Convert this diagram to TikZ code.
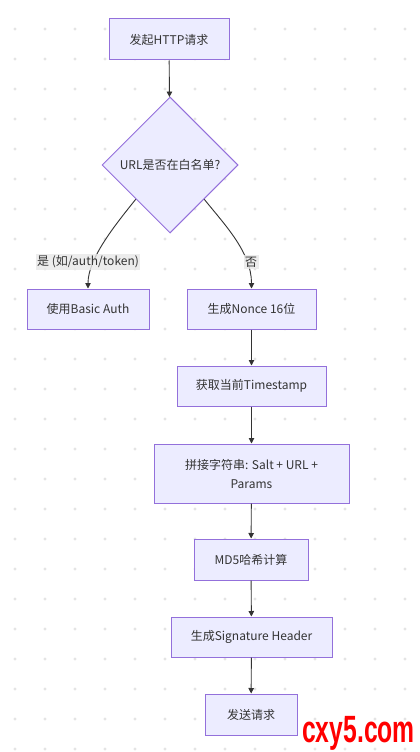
\documentclass[tikz,border=0pt]{standalone}
\usepackage{fontspec}
\usepackage{tikz}
\usetikzlibrary{shapes.geometric,arrows.meta}
\setmainfont{Noto Sans CJK SC}
\newfontfamily\markfont{Liberation Sans}
\definecolor{boxfill}{RGB}{236,236,255}
\definecolor{boxline}{RGB}{147,112,219}
\definecolor{inkc}{RGB}{51,51,51}
\definecolor{dotc}{RGB}{228,228,228}
\definecolor{lblfill}{RGB}{232,232,232}
\definecolor{markred}{RGB}{255,0,0}

\begin{document}
\begin{tikzpicture}[x=1pt, y=-1pt,
    box/.style={draw=boxline, fill=boxfill, line width=1pt, text=inkc,
      font=\fontsize{12}{19}\selectfont, align=center, inner sep=0pt},
    choice/.style={diamond, draw=boxline, fill=boxfill, line width=1pt, text=inkc,
      font=\fontsize{12}{15}\selectfont, inner sep=0pt, aspect=1,
      minimum width=136pt, minimum height=136pt},
    edge/.style={draw=inkc, line width=0.9pt, -{Triangle[length=5.5pt,width=5.5pt]}},
    elabel/.style={fill=lblfill, fill opacity=0.8, text opacity=1, text=inkc,
      font=\fontsize{12}{15}\selectfont, inner sep=1.5pt}]
  \fill[white] (0,0) rectangle (420,752);
  \useasboundingbox (0,0) rectangle (420,752);

  \foreach \x in {15,45,...,405} {
    \foreach \y in {29,59,...,749} {
      \fill[dotc] (\x,\y) circle (1.6pt);
    }
  }

  \node[box, minimum width=120pt, minimum height=41pt] (start) at (169,39.5) {发起HTTP请求};
  \node[choice] (check) at (170,165) {URL是否在白名单?};
  \node[box, minimum width=122pt, minimum height=40pt] (basic) at (88,309) {使用Basic Auth};
  \node[box, minimum width=129pt, minimum height=40pt] (nonce) at (251.5,309) {生成Nonce 16位};
  \node[box, minimum width=149pt, minimum height=40pt] (stamp) at (251.5,386) {获取当前Timestamp};
  \node[box, minimum width=195pt, minimum height=59pt] (concat) at (251.5,473.5) {拼接字符串: Salt + URL +\\Params};
  \node[box, minimum width=114pt, minimum height=41pt] (md5) at (251,559.5) {MD5哈希计算};
  \node[box, minimum width=161pt, minimum height=40pt] (sign) at (251.5,637) {生成Signature Header};
  \node[box, minimum width=92pt, minimum height=41pt] (send) at (251,714.5) {发送请求};

  \draw[edge] (start) -- (check);
  \draw[edge] (check.south west) .. controls (116,224) and (88,258) .. (basic.north);
  \draw[edge] (check.south east) .. controls (224,224) and (251.5,252) .. (nonce.north);
  \draw[edge] (nonce) -- (stamp);
  \draw[edge] (stamp) -- (concat);
  \draw[edge] (concat) -- (md5);
  \draw[edge] (md5) -- (sign);
  \draw[edge] (sign) -- (send);

  \node[elabel] (yes) at (88,262) {是 (如/auth/token)};
  \node[elabel] (no) at (251,262) {否};

  %\draw[thick] (0,0) rectangle (420,752);
  \node[text=markred, font=\markfont\bfseries\fontsize{38}{38}\selectfont,
    xscale=0.65, anchor=base, inner sep=0pt] (mark) at (358.5,742) {cxy5.com};
\end{tikzpicture}
\end{document}
